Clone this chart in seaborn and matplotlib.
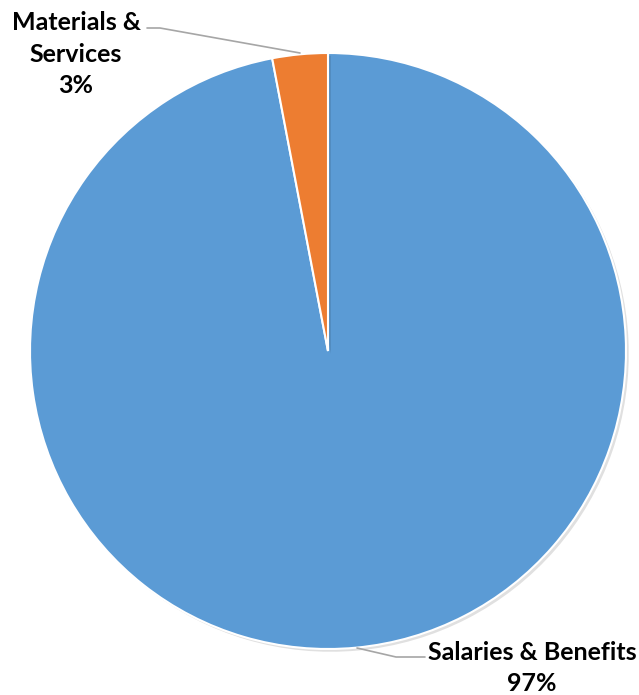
import matplotlib
matplotlib.use("Agg")
import matplotlib.pyplot as plt
import matplotlib.patheffects as pe
import seaborn as sns

categories = ["Salaries & Benefits", "Materials & Services"]
values = [97, 3]
colors = ["#5B9BD5", "#ED7D31"]

sns.set_theme(style="white")
plt.rcParams['font.family'] = ['Lato', 'DejaVu Sans']

W, H = 639, 695
cx, cy, R = 328, 351, 298
fig = plt.figure(figsize=(W / 100, H / 100), dpi=100)
ax = fig.add_axes([0, 0, 1, 1])

def px(x, y):
    return ((x - cx) / R, (cy - y) / R)

wedges, _ = ax.pie(values, colors=sns.color_palette(colors), startangle=90,
                   counterclock=False, radius=1.0,
                   wedgeprops=dict(edgecolor="white", linewidth=1.5))
for w in wedges:
    w.set_path_effects([pe.SimplePatchShadow(offset=(2, -2), shadow_rgbFace="#000000", alpha=0.12), pe.Normal()])

ax.set_xlim(-cx / R, (W - cx) / R)
ax.set_ylim(-(H - cy) / R, cy / R)
ax.set_aspect("equal")
ax.axis("off")

total = sum(values)
# leader lines
lx, ly = zip(px(300, 53), px(160, 28), px(147, 28))
ax.plot(lx, ly, color="#A6A6A6", lw=1.2)
lx, ly = zip(px(357, 648), px(396, 657), px(425, 657))
ax.plot(lx, ly, color="#A6A6A6", lw=1.2)

t1 = f"{categories[1]}\n{round(values[1] / total * 100)}%".replace("Materials & ", "Materials &\n")
ax.text(*px(76, 54), t1, ha="center", va="center", fontsize=18, fontweight="bold",
        color="black", linespacing=1.45)
t0 = f"{categories[0]}\n{round(values[0] / total * 100)}%"
ax.text(*px(532, 668), t0, ha="center", va="center", fontsize=18, fontweight="bold",
        color="black", linespacing=1.45)

fig.savefig("out.png", dpi=100)
